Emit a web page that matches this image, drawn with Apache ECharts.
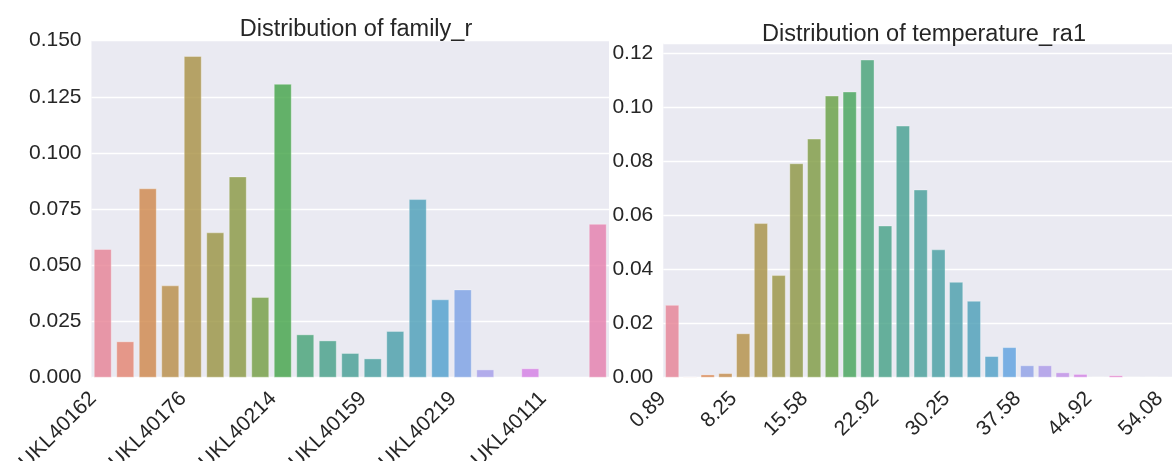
<!DOCTYPE html>
<html>
<head>
<meta charset="utf-8">
<script src="https://cdn.jsdelivr.net/npm/echarts@6/dist/echarts.min.js"></script>
<style>
  html, body { margin: 0; padding: 0; background: #ffffff; }
  #chart { width: 1172px; height: 461px; }
</style>
</head>
<body>
<div id="chart"></div>
<script>
// ---- family_r distribution ----
const familyCategories = [
  'UKL40162', 'UKL40170', 'UKL40173', 'UKL40175', 'UKL40176', 'UKL40182',
  'UKL40190', 'UKL40201', 'UKL40214', 'UKL40108', 'UKL40119', 'UKL40135',
  'UKL40159', 'UKL40166', 'UKL40185', 'UKL40199', 'UKL40219', 'UKL40104',
  'UKL40107', 'UKL40109', 'UKL40111', 'UKL40113', 'UKL40117'
];
const familyShares = [
  0.0573, 0.0162, 0.0843, 0.0411, 0.1432, 0.0647, 0.0896, 0.0359,
  0.1308, 0.0193, 0.0166, 0.0110, 0.0086, 0.0208, 0.0795, 0.0349,
  0.0393, 0.0037, 0.0003, 0.0042, 0.0, 0.0, 0.0685
];

// ---- temperature_ra1 distribution ----
// bin labels; the final entry is the closing tick after the last bin
const tempCategories = [
  '0.89', '2.75', '4.58', '6.42', '8.25', '10.08', '11.92', '13.75',
  '15.58', '17.42', '19.25', '21.08', '22.92', '24.75', '26.58', '28.42',
  '30.25', '32.08', '33.92', '35.75', '37.58', '39.42', '41.25', '43.08',
  '44.92', '46.75', '48.58', '50.42', '54.08'
];
const tempShares = [
  0.0269, 0.0004, 0.0012, 0.0017, 0.0164, 0.0571, 0.0379, 0.0792,
  0.0883, 0.1042, 0.1057, 0.1175, 0.0562, 0.0931, 0.0695, 0.0474,
  0.0354, 0.0284, 0.0080, 0.0113, 0.0046, 0.0046, 0.0020, 0.0014,
  0.0003, 0.0009, 0.0003, 0.0003
];

// HUSL colour space -> sRGB
function huslToRgb(H, S, L) {
  const M = [[3.2406, -1.5372, -0.4986], [-0.9689, 1.8758, 0.0415], [0.0557, -0.2040, 1.0570]];
  const hrad = H * Math.PI / 180, sinH = Math.sin(hrad), cosH = Math.cos(hrad);
  const sub1 = Math.pow(L + 16, 3) / 1560896;
  const sub2 = sub1 > 0.008856 ? sub1 : L / 903.3;
  let maxC = Infinity;
  for (const [m1, m2, m3] of M) {
    const top = (0.99915 * m1 + 1.05122 * m2 + 1.14460 * m3) * sub2;
    const rb = 0.86330 * m3 - 0.17266 * m2;
    const lb = 0.12949 * m3 - 0.38848 * m1;
    const bottom = (rb * sinH + lb * cosH) * sub2;
    for (const t of [0, 1]) {
      const C = L * (top - 1.05122 * t) / (bottom + 0.17266 * sinH * t);
      if (C > 0 && C < maxC) maxC = C;
    }
  }
  const C = maxC / 100 * S;
  const U = Math.cos(hrad) * C, V = Math.sin(hrad) * C;
  const t = (L + 16) / 116;
  const Y = t * t * t > 0.008856 ? t * t * t : (116 * t - 16) / 903.3;
  const vu = U / (13 * L) + 0.19784, vv = V / (13 * L) + 0.46834;
  const X = -(9 * Y * vu) / ((vu - 4) * vv - vu * vv);
  const Z = (9 * Y - 15 * vv * Y - vv * X) / (3 * vv);
  return M.map(r => {
    const c = r[0] * X + r[1] * Y + r[2] * Z;
    const v = c <= 0.0031308 ? 12.92 * c : 1.055 * Math.pow(c, 1 / 2.4) - 0.055;
    return Math.min(1, Math.max(0, v));
  });
}

// reduce saturation in HLS space
function desaturate(rgb, prop) {
  const [r, g, b] = rgb;
  const maxc = Math.max(r, g, b), minc = Math.min(r, g, b);
  const l = (maxc + minc) / 2;
  if (maxc === minc) return rgb;
  const range = maxc - minc;
  let s = l <= 0.5 ? range / (maxc + minc) : range / (2 - maxc - minc);
  const rc = (maxc - r) / range, gc = (maxc - g) / range, bc = (maxc - b) / range;
  let h = r === maxc ? bc - gc : (g === maxc ? 2 + rc - bc : 4 + gc - rc);
  h = (((h / 6) % 1) + 1) % 1;
  s *= prop;
  const m2 = l <= 0.5 ? l * (1 + s) : l + s - l * s;
  const m1 = 2 * l - m2;
  const v = (hue) => {
    hue = ((hue % 1) + 1) % 1;
    if (hue < 1 / 6) return m1 + (m2 - m1) * hue * 6;
    if (hue < 0.5) return m2;
    if (hue < 2 / 3) return m1 + (m2 - m1) * (2 / 3 - hue) * 6;
    return m1;
  };
  return [v(h + 1 / 3), v(h), v(h - 1 / 3)];
}

function palette(n) {
  const out = [];
  for (let i = 0; i < n; i++) {
    const hue = ((i / n + 0.01) % 1) * 359;
    const rgb = desaturate(huslToRgb(hue, 0.9 * 99, 0.65 * 99), 0.75);
    out.push('rgb(' + rgb.map(c => Math.round(c * 255)).join(',') + ')');
  }
  return out;
}

function coloredBars(values) {
  const colors = palette(values.length);
  return values.map((v, i) => ({ value: v, itemStyle: { color: colors[i] } }));
}

const FONT = "'Liberation Sans', Arial, sans-serif";
const INK = '#262626';

const xLabel = {
  interval: 3, rotate: 45, margin: 23, verticalAlign: 'bottom', padding: [0, 3, 0, 0],
  fontFamily: FONT, fontSize: 21, color: INK
};

const chart = echarts.init(document.getElementById('chart'), null, { renderer: 'canvas' });

chart.setOption({
  animation: false,
  backgroundColor: '#ffffff',
  title: [
    {
      text: 'Distribution of family_r',
      left: 351, top: 13, textAlign: 'center',
      textStyle: { fontFamily: FONT, fontSize: 23.5, fontWeight: 'normal', color: INK }
    },
    {
      text: 'Distribution of temperature_ra1',
      left: 919, top: 18, textAlign: 'center',
      textStyle: { fontFamily: FONT, fontSize: 23.5, fontWeight: 'normal', color: INK }
    }
  ],
  grid: [
    {
      left: 91.5, top: 40.7, width: 517.5, height: 337, outerBoundsMode: 'none',
      show: true, backgroundColor: '#eaeaf2', borderWidth: 0
    },
    {
      left: 663.3, top: 43.3, width: 514.75, height: 334.4, outerBoundsMode: 'none',
      show: true, backgroundColor: '#eaeaf2', borderWidth: 0
    }
  ],
  xAxis: [
    {
      type: 'category', gridIndex: 0, data: familyCategories,
      axisLine: { show: false }, axisTick: { show: false }, splitLine: { show: false },
      axisLabel: xLabel
    },
    {
      type: 'category', gridIndex: 1, data: tempCategories,
      axisLine: { show: false }, axisTick: { show: false }, splitLine: { show: false },
      axisLabel: xLabel
    }
  ],
  yAxis: [
    {
      type: 'value', gridIndex: 0, min: 0, max: 0.15, interval: 0.025,
      axisLine: { show: false }, axisTick: { show: false },
      splitLine: { lineStyle: { color: '#ffffff', width: 1.3 } },
      axisLabel: { margin: 10, fontFamily: FONT, fontSize: 21, color: INK, formatter: v => v.toFixed(3) }
    },
    {
      type: 'value', gridIndex: 1, min: 0, max: 0.1235, interval: 0.02,
      axisLine: { show: false }, axisTick: { show: false },
      splitLine: { lineStyle: { color: '#ffffff', width: 1.3 } },
      axisLabel: { margin: 10, showMaxLabel: false, fontFamily: FONT, fontSize: 21, color: INK, formatter: v => v.toFixed(2) }
    }
  ],
  series: [
    {
      type: 'bar', xAxisIndex: 0, yAxisIndex: 0, barCategoryGap: '20%',
      itemStyle: { opacity: 0.8, borderColor: 'rgba(255,255,255,0.4)', borderWidth: 1 },
      data: coloredBars(familyShares)
    },
    {
      type: 'bar', xAxisIndex: 1, yAxisIndex: 1, barCategoryGap: '20%',
      itemStyle: { opacity: 0.8, borderColor: 'rgba(255,255,255,0.4)', borderWidth: 1 },
      data: coloredBars(tempShares)
    }
  ]
});
</script>
</body>
</html>
